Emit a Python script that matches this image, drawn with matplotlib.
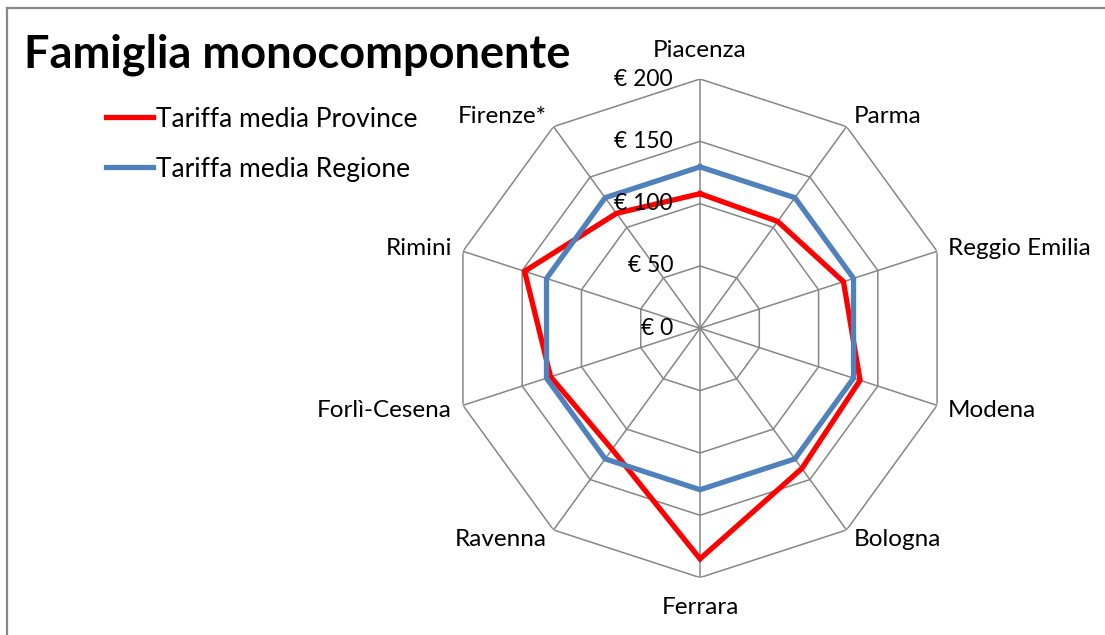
import matplotlib
matplotlib.use("Agg")
import matplotlib.pyplot as plt
from matplotlib.lines import Line2D
import numpy as np

plt.rcParams['font.family'] = ['Lato', 'DejaVu Sans']

# ── Data ────────────────────────────────────────────────────────────────
categories = ['Piacenza', 'Parma', 'Reggio Emilia', 'Modena', 'Bologna',
              'Ferrara', 'Ravenna', 'Forlì-Cesena', 'Rimini', 'Firenze*']
province = [108, 106, 121, 135, 139, 185, 120, 126, 148, 114]
regione = [129.5] * 10
levels = [0, 50, 100, 150, 200]
level_labels = ['€ 0', '€ 50', '€ 100', '€ 150', '€ 200']

TITLE = 'Famiglia monocomponente'
RED = '#FF0000'
BLUE = '#4F81BD'
GRID = '#868686'

# label offsets (pixels) from each outer vertex, plus alignment
label_pos = [(0, 29, 'center'), (7, 10, 'left'), (11, 3, 'left'),
             (11, -5, 'left'), (7, -10, 'left'), (0, -30, 'center'),
             (-7, -10, 'right'), (-11, -5, 'right'), (-11, 3, 'right'),
             (-7, 10, 'right')]

fig = plt.figure(figsize=(11.05, 6.35), dpi=100)
ax = fig.add_axes([0.4079, 0.0904, 0.4512, 0.7852], projection='polar')
ax.set_theta_zero_location('N')
ax.set_theta_direction(-1)
ax.set_ylim(0, levels[-1])
ax.grid(False)
ax.set_xticks([])
ax.set_yticks([])
ax.spines['polar'].set_visible(False)
ax.patch.set_alpha(0)

angles = np.linspace(0, 2 * np.pi, len(categories), endpoint=False)
closed = np.append(angles, angles[0])

# polygon grid (Excel style)
for lv in levels[1:]:
    ax.plot(closed, [lv] * len(closed), color=GRID, lw=1.1, zorder=1)
for a in angles:
    ax.plot([a, a], [0, levels[-1]], color=GRID, lw=1.1, zorder=1)

ax.plot(closed, province + province[:1], color=RED, lw=3.8,
        label='Tariffa media Province', zorder=3, solid_joinstyle='miter')
ax.plot(closed, regione + regione[:1], color=BLUE, lw=3.8,
        label='Tariffa media Regione', zorder=3, solid_joinstyle='miter')

for lv, txt in zip(levels, level_labels):
    ax.annotate(txt, xy=(0, lv), xytext=(-27, 0), textcoords='offset pixels',
                ha='right', va='center', fontsize=16.5, zorder=5)

for a, name, (dx, dy, ha) in zip(angles, categories, label_pos):
    ax.annotate(name, xy=(a, levels[-1]), xytext=(dx, dy),
                textcoords='offset pixels', ha=ha, va='center', fontsize=17.5)

fig.text(24 / 1105, 1 - 55 / 635, TITLE, fontsize=32.5, fontweight='bold',
         ha='left', va='center')

h, l = ax.get_legend_handles_labels()
fig.legend(h, l, loc='upper left', bbox_to_anchor=(95 / 1105, 1 - 96 / 635),
           frameon=False, fontsize=19, handlelength=1.8, handletextpad=0.1,
           labelspacing=0.95, borderaxespad=0)

# outer chart frame (cropped at right and bottom)
fig.add_artist(Line2D([7 / 1105, 7 / 1105], [0, 1 - 8 / 635],
                      color='#888888', lw=1.6))
fig.add_artist(Line2D([7 / 1105, 1], [1 - 8 / 635, 1 - 8 / 635],
                      color='#888888', lw=1.6))

fig.savefig('out.png', dpi=100)
